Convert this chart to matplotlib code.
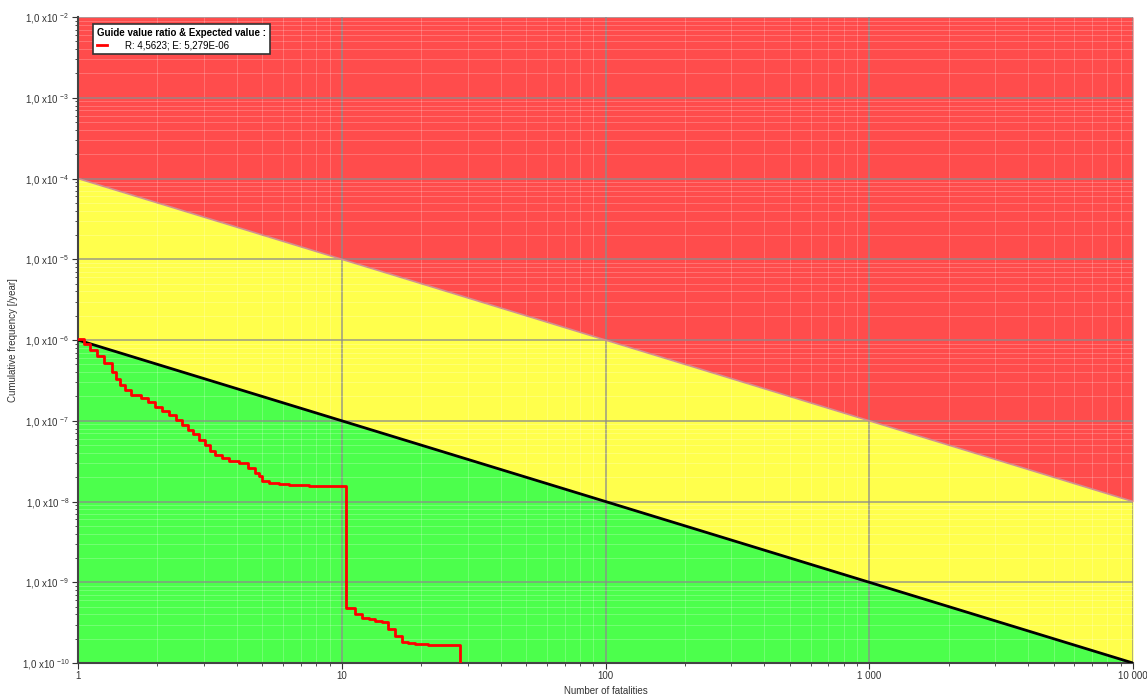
import numpy as np
import matplotlib.pyplot as plt
from matplotlib.ticker import FixedLocator, LogLocator, NullFormatter

plt.rcParams['font.family'] = ['Liberation Sans', 'DejaVu Sans']
plt.rcParams['mathtext.fontset'] = 'custom'
plt.rcParams['mathtext.rm'] = 'Liberation Sans'
plt.rcParams['mathtext.it'] = 'Liberation Sans'
plt.rcParams['mathtext.default'] = 'regular'

# guide lines: F = C / N
x_range = [1, 10000]
upper_c = 1e-4
lower_c = 1e-6

# F-N curve (step, post)
fn_n = [1, 1.054, 1.11, 1.18, 1.255, 1.346, 1.393, 1.443, 1.507, 1.588,
        1.733, 1.843, 1.958, 2.082, 2.213, 2.353, 2.48, 2.61, 2.73, 2.876,
        3.03, 3.166, 3.31, 3.515, 3.736, 4.08, 4.41, 4.69, 4.86, 4.985,
        5.30, 5.78, 6.31, 7.51,
        10.38, 11.23, 11.94, 12.69, 13.36, 14.21, 14.97, 15.92, 16.92, 17.83,
        18.96, 21.23, 28.07]
fn_f = [1.03e-6, 8.92e-7, 7.52e-7, 6.34e-7, 5.19e-7, 4.02e-7, 3.29e-7, 2.77e-7, 2.40e-7, 2.08e-7,
        1.91e-7, 1.71e-7, 1.48e-7, 1.32e-7, 1.18e-7, 1.02e-7, 8.86e-8, 7.69e-8, 6.86e-8, 5.78e-8,
        5.01e-8, 4.22e-8, 3.77e-8, 3.46e-8, 3.18e-8, 3.00e-8, 2.60e-8, 2.25e-8, 2.07e-8, 1.79e-8,
        1.69e-8, 1.65e-8, 1.60e-8, 1.56e-8,
        4.80e-10, 4.04e-10, 3.61e-10, 3.51e-10, 3.31e-10, 3.22e-10, 2.64e-10, 2.16e-10, 1.82e-10, 1.78e-10,
        1.74e-10, 1.67e-10, 1e-10]

x_ticks = [1, 10, 100, 1000, 10000]
x_labels = ['1', '10', '100', '1 000', '10 000']
y_exps = [-10, -9, -8, -7, -6, -5, -4, -3, -2]
legend_title = 'Guide value ratio & Expected value :'
legend_entry = 'R: 4,5623; E: 5,279E-06'

fig = plt.figure(figsize=(11.47, 6.95), dpi=100)
ax = fig.add_axes([0.068, 0.046, 0.9198, 0.9295])

xs = np.array(x_range, dtype=float)
ax.fill_between(xs, upper_c / xs, [1e-2, 1e-2], color='#ff4c4c', lw=0, zorder=0)
ax.fill_between(xs, lower_c / xs, upper_c / xs, color='#ffff4c', lw=0, zorder=0)
ax.fill_between(xs, [1e-10, 1e-10], lower_c / xs, color='#4cff4c', lw=0, zorder=0)
ax.plot(xs, upper_c / xs, color='#d09090', lw=1.2, zorder=2)
ax.plot(xs, lower_c / xs, color='black', lw=2, zorder=3)

ax.step(fn_n, fn_f, where='post', color='#ff0000', lw=2, zorder=4, label=legend_entry)

ax.set_xscale('log')
ax.set_yscale('log')
ax.set_xlim(1, 10000)
ax.set_ylim(1e-10, 1e-2)

ax.xaxis.set_major_locator(FixedLocator(x_ticks))
ax.set_xticklabels(x_labels)
ax.xaxis.set_minor_locator(LogLocator(base=10, subs=np.arange(2, 10)))
ax.xaxis.set_minor_formatter(NullFormatter())
ax.yaxis.set_major_locator(FixedLocator([10.0 ** e for e in y_exps]))
ax.set_yticklabels([r'1,0 x10 $^{%d}$' % e for e in y_exps])
ax.yaxis.set_minor_locator(LogLocator(base=10, subs=np.arange(2, 10)))
ax.yaxis.set_minor_formatter(NullFormatter())

ax.grid(which='major', color='#8c8c8c', lw=1.2, alpha=0.8, zorder=1)
ax.grid(which='minor', color='#ffffff', lw=0.6, alpha=0.25, zorder=1)
for g in ax.get_xgridlines() + ax.get_ygridlines():
    g.set_zorder(1)

ax.tick_params(which='both', labelsize=7, colors='#333333', direction='out')
ax.tick_params(which='major', length=4, pad=2)
ax.tick_params(which='minor', length=2)
ax.spines['top'].set_visible(False)
ax.spines['right'].set_visible(False)
ax.spines['left'].set_color('#444444')
ax.spines['bottom'].set_color('#444444')
ax.spines['left'].set_linewidth(1.5)
ax.spines['bottom'].set_linewidth(1.5)

ax.set_xlabel('Number of fatalities', fontsize=7, color='#333333', labelpad=3)
ax.set_ylabel('Cumulative frequency [/year]', fontsize=7, color='#333333')
ax.yaxis.set_label_coords(-0.057, 0.5)

leg = ax.legend(loc='upper left', bbox_to_anchor=(0.01, 0.996), title=legend_title,
                fontsize=7, title_fontproperties={'weight': 'bold', 'size': 7},
                frameon=True, fancybox=False, edgecolor='#333333', framealpha=1,
                handlelength=1.0, handletextpad=1.8, borderpad=0.4, labelspacing=0.2)
leg._legend_box.align = 'left'
leg.get_frame().set_linewidth(1.2)

fig.savefig('out.png', dpi=100)
